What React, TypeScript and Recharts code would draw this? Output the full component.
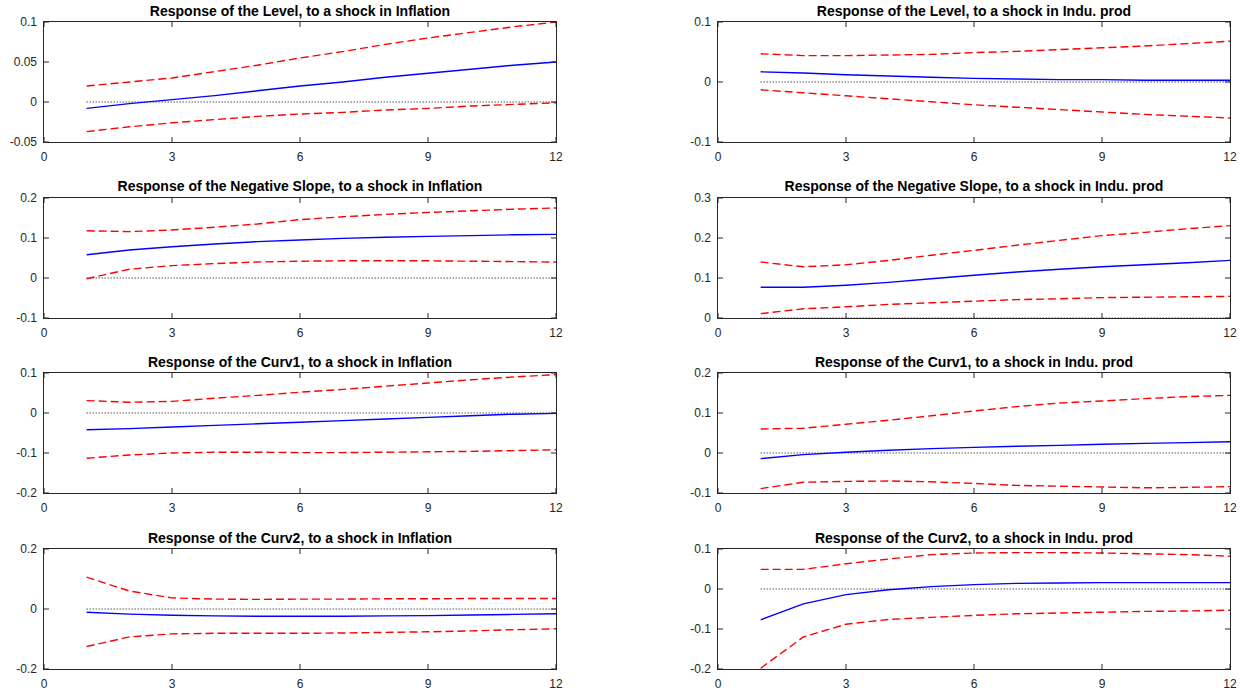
import { LineChart, Line, XAxis, YAxis, ReferenceLine } from 'recharts';

const horizons = [1, 2, 3, 4, 5, 6, 7, 8, 9, 10, 11, 12];
const xTicks = [0, 3, 6, 9, 12];

// Level
const levelInfl = [-0.008, -0.002, 0.003, 0.008, 0.014, 0.02, 0.025, 0.031, 0.036, 0.041, 0.046, 0.05];
const levelInflUp = [0.02, 0.025, 0.03, 0.038, 0.046, 0.055, 0.063, 0.072, 0.08, 0.087, 0.094, 0.1];
const levelInflLo = [-0.037, -0.031, -0.026, -0.022, -0.018, -0.015, -0.013, -0.01, -0.008, -0.005, -0.003, -0.001];
const levelProd = [0.017, 0.015, 0.012, 0.01, 0.008, 0.006, 0.005, 0.004, 0.004, 0.003, 0.003, 0.003];
const levelProdUp = [0.047, 0.044, 0.044, 0.045, 0.046, 0.049, 0.051, 0.054, 0.057, 0.06, 0.064, 0.068];
const levelProdLo = [-0.013, -0.018, -0.023, -0.028, -0.033, -0.038, -0.042, -0.046, -0.05, -0.054, -0.057, -0.06];

// Negative slope
const slopeInfl = [0.058, 0.07, 0.078, 0.085, 0.091, 0.095, 0.099, 0.102, 0.104, 0.106, 0.108, 0.109];
const slopeInflUp = [0.118, 0.116, 0.12, 0.127, 0.135, 0.146, 0.153, 0.159, 0.164, 0.168, 0.172, 0.175];
const slopeInflLo = [-0.002, 0.022, 0.031, 0.036, 0.04, 0.042, 0.043, 0.043, 0.043, 0.042, 0.041, 0.04];
const slopeProd = [0.077, 0.077, 0.082, 0.089, 0.098, 0.107, 0.115, 0.122, 0.128, 0.133, 0.138, 0.144];
const slopeProdUp = [0.14, 0.128, 0.133, 0.144, 0.157, 0.169, 0.182, 0.194, 0.206, 0.214, 0.223, 0.231];
const slopeProdLo = [0.011, 0.023, 0.028, 0.034, 0.038, 0.042, 0.046, 0.048, 0.051, 0.052, 0.053, 0.054];

// Curv1
const curv1Infl = [-0.042, -0.039, -0.035, -0.031, -0.027, -0.023, -0.019, -0.015, -0.011, -0.007, -0.003, -0.001];
const curv1InflUp = [0.031, 0.027, 0.029, 0.037, 0.044, 0.052, 0.059, 0.067, 0.075, 0.083, 0.09, 0.096];
const curv1InflLo = [-0.113, -0.105, -0.1, -0.098, -0.098, -0.099, -0.099, -0.098, -0.097, -0.096, -0.094, -0.092];
const curv1Prod = [-0.014, -0.004, 0.002, 0.007, 0.011, 0.014, 0.017, 0.019, 0.022, 0.024, 0.026, 0.028];
const curv1ProdUp = [0.06, 0.062, 0.072, 0.082, 0.093, 0.105, 0.116, 0.125, 0.13, 0.136, 0.141, 0.144];
const curv1ProdLo = [-0.089, -0.073, -0.071, -0.07, -0.072, -0.076, -0.081, -0.083, -0.085, -0.087, -0.086, -0.084];

// Curv2
const curv2Infl = [-0.011, -0.017, -0.021, -0.023, -0.024, -0.024, -0.024, -0.023, -0.022, -0.02, -0.018, -0.016];
const curv2InflUp = [0.106, 0.06, 0.037, 0.033, 0.032, 0.033, 0.033, 0.034, 0.034, 0.035, 0.035, 0.035];
const curv2InflLo = [-0.125, -0.093, -0.083, -0.081, -0.081, -0.081, -0.08, -0.078, -0.076, -0.073, -0.069, -0.066];
const curv2Prod = [-0.077, -0.037, -0.014, -0.002, 0.006, 0.011, 0.014, 0.015, 0.016, 0.016, 0.016, 0.016];
const curv2ProdUp = [0.049, 0.049, 0.063, 0.075, 0.086, 0.09, 0.091, 0.091, 0.09, 0.088, 0.086, 0.082];
const curv2ProdLo = [-0.198, -0.12, -0.088, -0.076, -0.071, -0.066, -0.062, -0.06, -0.058, -0.056, -0.055, -0.053];

const panels = [
  { title: 'Response of the Level, to a shock in Inflation', irf: levelInfl, up: levelInflUp, lo: levelInflLo, domain: [-0.05, 0.1], ticks: [-0.05, 0, 0.05, 0.1] },
  { title: 'Response of the Level, to a shock in Indu. prod', irf: levelProd, up: levelProdUp, lo: levelProdLo, domain: [-0.1, 0.1], ticks: [-0.1, 0, 0.1] },
  { title: 'Response of the Negative Slope, to a shock in Inflation', irf: slopeInfl, up: slopeInflUp, lo: slopeInflLo, domain: [-0.1, 0.2], ticks: [-0.1, 0, 0.1, 0.2] },
  { title: 'Response of the Negative Slope, to a shock in Indu. prod', irf: slopeProd, up: slopeProdUp, lo: slopeProdLo, domain: [0, 0.3], ticks: [0, 0.1, 0.2, 0.3] },
  { title: 'Response of the Curv1, to a shock in Inflation', irf: curv1Infl, up: curv1InflUp, lo: curv1InflLo, domain: [-0.2, 0.1], ticks: [-0.2, -0.1, 0, 0.1] },
  { title: 'Response of the Curv1, to a shock in Indu. prod', irf: curv1Prod, up: curv1ProdUp, lo: curv1ProdLo, domain: [-0.1, 0.2], ticks: [-0.1, 0, 0.1, 0.2] },
  { title: 'Response of the Curv2, to a shock in Inflation', irf: curv2Infl, up: curv2InflUp, lo: curv2InflLo, domain: [-0.2, 0.2], ticks: [-0.2, 0, 0.2] },
  { title: 'Response of the Curv2, to a shock in Indu. prod', irf: curv2Prod, up: curv2ProdUp, lo: curv2ProdLo, domain: [-0.2, 0.1], ticks: [-0.2, -0.1, 0, 0.1] },
];

const colLefts = [44, 718];
const rowTops = [22, 197.5, 373, 549];
const PW = 512;
const PH = 120;
const YW = 44;
const MT = 10;
const TL = 5; // inward tick length, px
const font = 'Liberation Sans, Arial, Helvetica, sans-serif';
const labelColor = '#262626';
const boxColor = '#262626';

function fmt(v: number) {
  return String(v);
}

function LeftTick(props: any) {
  const { x, y, payload } = props;
  return (
    <text x={x - 7} y={y} dy="0.355em" textAnchor="end" fontSize={12} fill={labelColor} fontFamily={font}>
      {fmt(payload.value)}
    </text>
  );
}

function BottomTick(props: any) {
  const { x, y, payload } = props;
  return (
    <text x={x} y={y + 10} dy="0.71em" textAnchor="middle" fontSize={12} fill={labelColor} fontFamily={font}>
      {payload.value}
    </text>
  );
}

function Panel({ p, left, top }: { p: (typeof panels)[number]; left: number; top: number }) {
  const data = horizons.map((h, i) => ({ h, irf: p.irf[i], up: p.up[i], lo: p.lo[i] }));
  const [y0, y1] = p.domain;
  const x0 = xTicks[0];
  const x1 = xTicks[xTicks.length - 1];
  const dy = ((y1 - y0) * TL) / PH;
  const dx = ((x1 - x0) * TL) / PW;
  return (
    <>
      <div
        style={{
          position: 'absolute',
          left: left,
          top: top - 18.5,
          width: PW,
          textAlign: 'center',
          fontFamily: font,
          fontWeight: 'bold',
          fontSize: 14,
          lineHeight: '14px',
          color: '#000',
          whiteSpace: 'nowrap',
          zIndex: 2,
        }}
      >
        {p.title}
      </div>
      {/* axes frame */}
      <div
        style={{
          position: 'absolute',
          left: left - 1,
          top: top - 1,
          width: PW,
          height: PH,
          border: `1px solid ${boxColor}`,
          pointerEvents: 'none',
          zIndex: 3,
        }}
      />
      <div style={{ position: 'absolute', left: left - YW, top: top - MT, zIndex: 1 }}>
        <LineChart width={YW + PW + 10} height={PH + MT + 28} data={data} margin={{ top: MT, right: 10, bottom: 0, left: 0 }}>
          <XAxis
            xAxisId="b"
            dataKey="h"
            type="number"
            domain={[x0, x1]}
            ticks={xTicks}
            interval={0}
            height={28}
            tickSize={0}
            tickMargin={0}
            tick={BottomTick}
            tickLine={false}
            axisLine={false}
            allowDataOverflow
          />
          <YAxis
            yAxisId="l"
            type="number"
            domain={p.domain}
            ticks={p.ticks}
            interval={0}
            width={YW}
            tickSize={0}
            tickMargin={0}
            tick={LeftTick}
            tickLine={false}
            axisLine={false}
            allowDataOverflow
          />
          <ReferenceLine
            xAxisId="b"
            yAxisId="l"
            segment={[{ x: horizons[0], y: 0 }, { x: horizons[horizons.length - 1], y: 0 }]}
            stroke="#000"
            strokeWidth={1}
            strokeDasharray="1 2"
          />
          <Line xAxisId="b" yAxisId="l" type="linear" dataKey="irf" stroke="#0000ff" strokeWidth={1.4} dot={false} isAnimationActive={false} />
          <Line xAxisId="b" yAxisId="l" type="linear" dataKey="up" stroke="#ff0000" strokeWidth={1.4} strokeDasharray="8 4" dot={false} isAnimationActive={false} />
          <Line xAxisId="b" yAxisId="l" type="linear" dataKey="lo" stroke="#ff0000" strokeWidth={1.4} strokeDasharray="8 4" dot={false} isAnimationActive={false} />
          {/* inward tick marks on all four sides */}
          {xTicks.map((t) => (
            <ReferenceLine key={'xb' + t} xAxisId="b" yAxisId="l" stroke={boxColor} strokeWidth={1} segment={[{ x: t, y: y0 }, { x: t, y: y0 + dy }]} />
          ))}
          {xTicks.map((t) => (
            <ReferenceLine key={'xt' + t} xAxisId="b" yAxisId="l" stroke={boxColor} strokeWidth={1} segment={[{ x: t, y: y1 }, { x: t, y: y1 - dy }]} />
          ))}
          {p.ticks.map((t) => (
            <ReferenceLine key={'yl' + t} xAxisId="b" yAxisId="l" stroke={boxColor} strokeWidth={1} segment={[{ x: x0, y: t }, { x: x0 + dx, y: t }]} />
          ))}
          {p.ticks.map((t) => (
            <ReferenceLine key={'yr' + t} xAxisId="b" yAxisId="l" stroke={boxColor} strokeWidth={1} segment={[{ x: x1, y: t }, { x: x1 - dx, y: t }]} />
          ))}
        </LineChart>
      </div>
    </>
  );
}

export default function App() {
  return (
    <div style={{ position: 'absolute', left: 0, top: 0, width: 1246, height: 693, background: '#fff' }}>
      {panels.map((p, i) => (
        <Panel key={p.title} p={p} left={colLefts[i % 2]} top={rowTops[Math.floor(i / 2)]} />
      ))}
    </div>
  );
}
